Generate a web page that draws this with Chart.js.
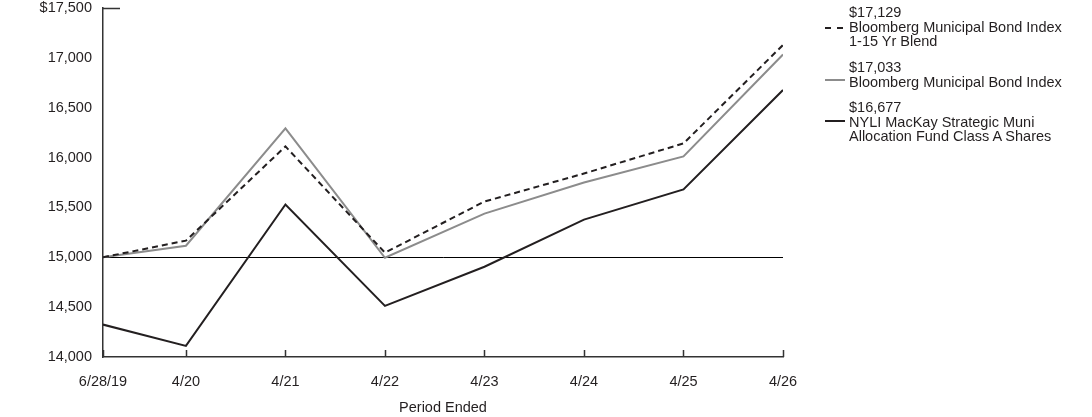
<!DOCTYPE html>
<html>
<head>
<meta charset="utf-8">
<script src="https://cdn.jsdelivr.net/npm/chart.js@4/dist/chart.umd.min.js"></script>
<style>
    body { margin: 0; background: #fff; font-family: "Liberation Sans", Arial, sans-serif; }
    #wrap { position: relative; width: 1092px; height: 417px; }
    #chart { position: absolute; left: 0; top: 0; }
    .legend-item { position: absolute; left: 849px; font-size: 14.5px; line-height: 14.5px; color: #231f20; white-space: nowrap; }
    .legend-swatch { position: absolute; left: 825px; width: 20px; height: 0; }
</style>
</head>
<body>
<div id="wrap">
    <canvas id="chart" width="1092" height="417"></canvas>
    <div id="legend"></div>
</div>
<script>
// Period labels and their position in months since 6/28/19
const periodLabels = ['6/28/19', '4/20', '4/21', '4/22', '4/23', '4/24', '4/25', '4/26'];
const periodMonths = [0, 10, 22, 34, 46, 58, 70, 82];

const blendValues = [15000, 15167, 16112, 15046, 15559, 15840, 16142, 17129];
const muniValues = [15000, 15116, 16293, 14995, 15438, 15750, 16011, 17033];
const fundValues = [14325, 14111, 15529, 14513, 14905, 15378, 15680, 16677];

const yTicks = [14000, 14500, 15000, 15500, 16000, 16500, 17000, 17500];

const seriesNames = [
    ['Bloomberg Municipal Bond Index', '1-15 Yr Blend'],
    ['Bloomberg Municipal Bond Index'],
    ['NYLI MacKay Strategic Muni', 'Allocation Fund Class A Shares']
];

const fmt = v => v.toLocaleString('en-US');
const toPoints = vals => vals.map((v, i) => ({ x: periodMonths[i], y: v }));
const FONT = { family: 'Liberation Sans', size: 14.5 };

// Legend (HTML text)
const legendSpec = [
    { vals: blendValues, top: 5, lineY: 28, style: 'border-top: 2px dashed #231f20; width: 18px;' },
    { vals: muniValues, top: 60, lineY: 80, style: 'border-top: 2px solid #8c8c8c;' },
    { vals: fundValues, top: 100, lineY: 121, style: 'border-top: 2px solid #231f20;' }
];
const legendEl = document.getElementById('legend');
legendEl.innerHTML = legendSpec.map((s, i) => `
    <div class="legend-item" style="top:${s.top}px">$${fmt(s.vals[s.vals.length - 1])}<br>${seriesNames[i].join('<br>')}</div>
    <div class="legend-swatch" style="top:${s.lineY - 1}px; ${s.style}"></div>
`).join('');

// Inside tick marks on x axis + small cap at top of y axis
const axisMarks = {
    id: 'axisMarks',
    afterDraw(chart) {
        const ctx = chart.ctx;
        const x = chart.scales.x;
        const y = chart.scales.y;
        ctx.save();
        ctx.strokeStyle = '#333';
        ctx.lineWidth = 1.5;
        ctx.beginPath();
        periodMonths.forEach(m => {
            const px = Math.round(x.getPixelForValue(m)) + 0.5;
            ctx.moveTo(px, y.bottom);
            ctx.lineTo(px, y.bottom - 7);
        });
        const top = Math.round(y.getPixelForValue(17500)) + 0.5;
        ctx.moveTo(x.left, top);
        ctx.lineTo(x.left + 17, top);
        ctx.stroke();
        ctx.restore();
    }
};

const lineBase = { fill: false, tension: 0, pointRadius: 0, borderWidth: 2 };

new Chart(document.getElementById('chart').getContext('2d'), {
    type: 'line',
    data: {
        datasets: [
            { ...lineBase, label: seriesNames[0].join(' '), data: toPoints(blendValues), borderColor: '#231f20', borderDash: [6, 4] },
            { ...lineBase, label: seriesNames[1].join(' '), data: toPoints(muniValues), borderColor: '#8c8c8c' },
            { ...lineBase, label: seriesNames[2].join(' '), data: toPoints(fundValues), borderColor: '#231f20' }
        ]
    },
    options: {
        responsive: false,
        animation: false,
        layout: { padding: { left: 0, right: 309, top: 8, bottom: 0 } },
        plugins: { legend: { display: false }, tooltip: { enabled: false } },
        scales: {
            x: {
                type: 'linear',
                min: 0,
                max: 82,
                afterBuildTicks: scale => { scale.ticks = periodMonths.map(v => ({ value: v })); },
                afterFit: scale => { scale.height = 60; },
                grid: { display: false, drawTicks: false },
                border: { color: '#333', width: 1.5 },
                ticks: {
                    color: '#231f20',
                    font: FONT,
                    padding: 16,
                    maxRotation: 0,
                    autoSkip: false,
                    callback: v => periodLabels[periodMonths.indexOf(v)]
                },
                title: {
                    display: true,
                    text: 'Period Ended',
                    color: '#231f20',
                    font: FONT,
                    padding: { top: 12, bottom: 0 }
                }
            },
            y: {
                min: 14000,
                max: 17500,
                afterBuildTicks: scale => { scale.ticks = yTicks.map(v => ({ value: v })); },
                afterFit: scale => {
                    scale.width = 103;
                    scale.paddingTop = 0;
                    scale.paddingBottom = 0;
                },
                grid: {
                    drawTicks: false,
                    color: c => c.tick && c.tick.value === 15000 ? '#000' : 'rgba(0,0,0,0)',
                    lineWidth: 1
                },
                border: { color: '#333', width: 1.5 },
                ticks: {
                    color: '#231f20',
                    font: FONT,
                    padding: 11,
                    callback: v => v === 17500 ? '$' + fmt(v) : fmt(v)
                }
            }
        }
    },
    plugins: [axisMarks]
});
</script>
</body>
</html>
